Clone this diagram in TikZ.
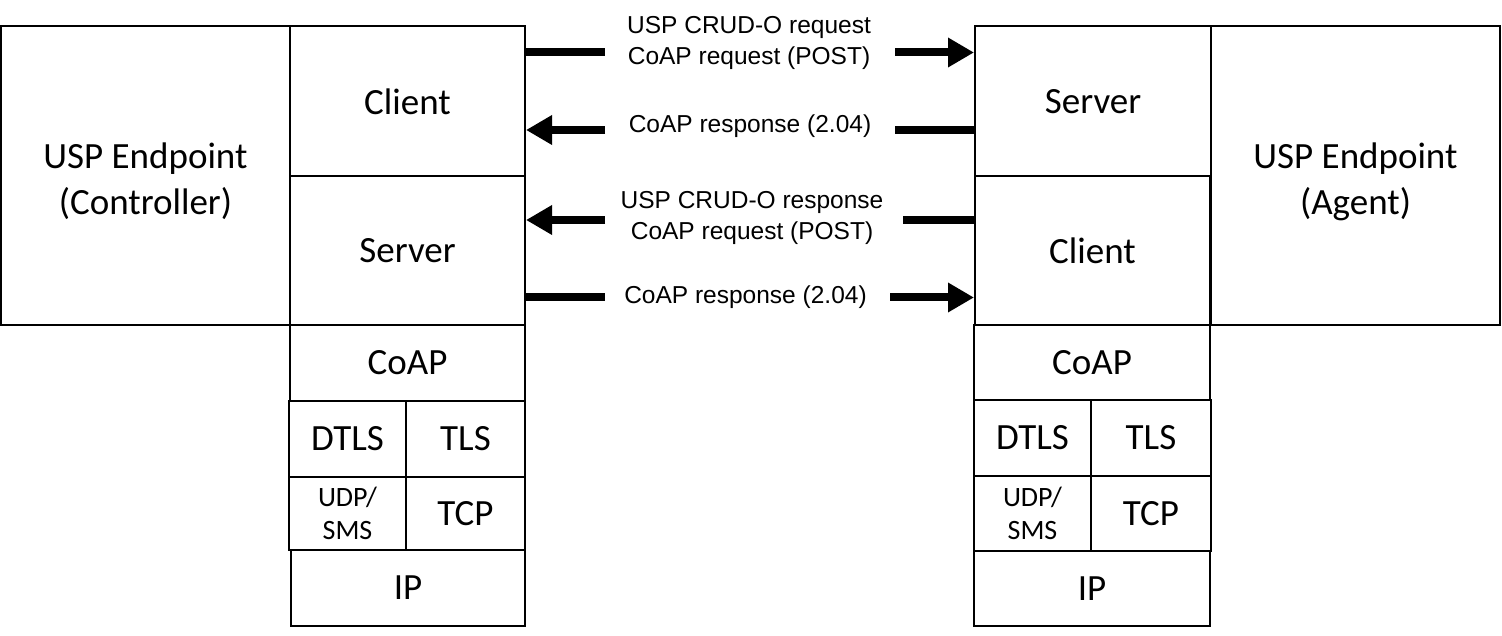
\documentclass[tikz,border=0pt]{standalone}
\usepackage{fontspec}
\setmainfont{Carlito}
\newfontfamily\msgfont{Liberation Sans}
\usetikzlibrary{arrows.meta}

\begin{document}
\begin{tikzpicture}[x=1pt,y=-1pt,
  layer/.style={draw, line width=2pt, inner sep=0pt, align=center,
                font=\fontsize{37}{46}\selectfont},
  smalllayer/.style={layer, font=\fontsize{28}{33}\selectfont},
  endtext/.style={inner sep=0pt, align=center, font=\fontsize{37}{46}\selectfont},
  msg/.style={font=\msgfont\fontsize{24.5}{31}\selectfont, align=center, inner sep=0pt},
  bar/.style={line width=8pt},
  headtip/.style={-{Triangle[length=26pt,width=28pt]}}]

\useasboundingbox (0,0) rectangle (1502,636);

% Controller side
\node[layer, minimum width=289pt, minimum height=299pt] (ctrl) at (145.5,175.5) {};
\node[endtext] (ctrltxt) at ([yshift=-6pt]ctrl.center) {USP Endpoint\\(Controller)};
\node[layer, minimum width=235pt, minimum height=150pt] (lcli) at (407.5,101.5) {Client};
\node[layer, minimum width=235pt, minimum height=149pt] (lsrv) at (407.5,250.5) {Server};
\node[layer, minimum width=235pt, minimum height=76pt] (lcoap) at (407.5,363) {CoAP};
\node[layer, minimum width=117pt, minimum height=76pt] (ldtls) at (347.5,439) {DTLS};
\node[layer, minimum width=119pt, minimum height=76pt] (ltls) at (465.5,439) {TLS};
\node[smalllayer, minimum width=117pt, minimum height=73pt] (ludp) at (347.5,513.5) {UDP/\\SMS};
\node[layer, minimum width=119pt, minimum height=73pt] (ltcp) at (465.5,513.5) {TCP};
\node[layer, minimum width=234pt, minimum height=76pt] (lip) at (408,588) {IP};

% Agent side
\node[layer, minimum width=236pt, minimum height=150pt] (rsrv) at (1093,101.5) {Server};
\node[layer, minimum width=235pt, minimum height=149pt] (rcli) at (1092.5,250.5) {Client};
\node[layer, minimum width=236pt, minimum height=75pt] (rcoap) at (1092,362.5) {CoAP};
\node[layer, minimum width=117pt, minimum height=76pt] (rdtls) at (1032.5,438) {DTLS};
\node[layer, minimum width=120pt, minimum height=76pt] (rtls) at (1151,438) {TLS};
\node[smalllayer, minimum width=117pt, minimum height=75pt] (rudp) at (1032.5,513.5) {UDP/\\SMS};
\node[layer, minimum width=120pt, minimum height=75pt] (rtcp) at (1151,513.5) {TCP};
\node[layer, minimum width=236pt, minimum height=75pt] (rip) at (1092,588.5) {IP};
\node[layer, minimum width=289pt, minimum height=299pt] (agent) at (1355.5,175.5) {};
\node[endtext] (agenttxt) at ([yshift=-6pt]agent.center) {USP Endpoint\\(Agent)};

% Message labels
\node[msg] (t1) at (749,43) {USP CRUD-O request\\CoAP request (POST)};
\node[msg] (t2) at (750,126) {CoAP response (2.04)};
\node[msg] (t3) at (752,217.5) {USP CRUD-O response\\CoAP request (POST)};
\node[msg] (t4) at (745.5,297.5) {CoAP response (2.04)};

% Gaps in the message bars around the labels
\coordinate (m1l) at (605,52.5);  \coordinate (m1r) at (895,52.5);
\coordinate (m2l) at (605,130);   \coordinate (m2r) at (895,130);
\coordinate (m3l) at (605,220);   \coordinate (m3r) at (903,220);
\coordinate (m4l) at (605,297.5); \coordinate (m4r) at (890,297.5);

% Request: controller client -> agent server
\draw[bar] (lcli.east |- m1l) -- (m1l);
\draw[bar, headtip] (m1r) -- (rsrv.west |- m1r);
% Response: agent server -> controller client
\draw[bar] (rsrv.west |- m2r) -- (m2r);
\draw[bar, headtip] (m2l) -- (lcli.east |- m2l);
% Request: agent client -> controller server
\draw[bar] (rcli.west |- m3r) -- (m3r);
\draw[bar, headtip] (m3l) -- (lsrv.east |- m3l);
% Response: controller server -> agent client
\draw[bar] (lsrv.east |- m4l) -- (m4l);
\draw[bar, headtip] (m4r) -- (rcli.west |- m4r);
\end{tikzpicture}
\end{document}
